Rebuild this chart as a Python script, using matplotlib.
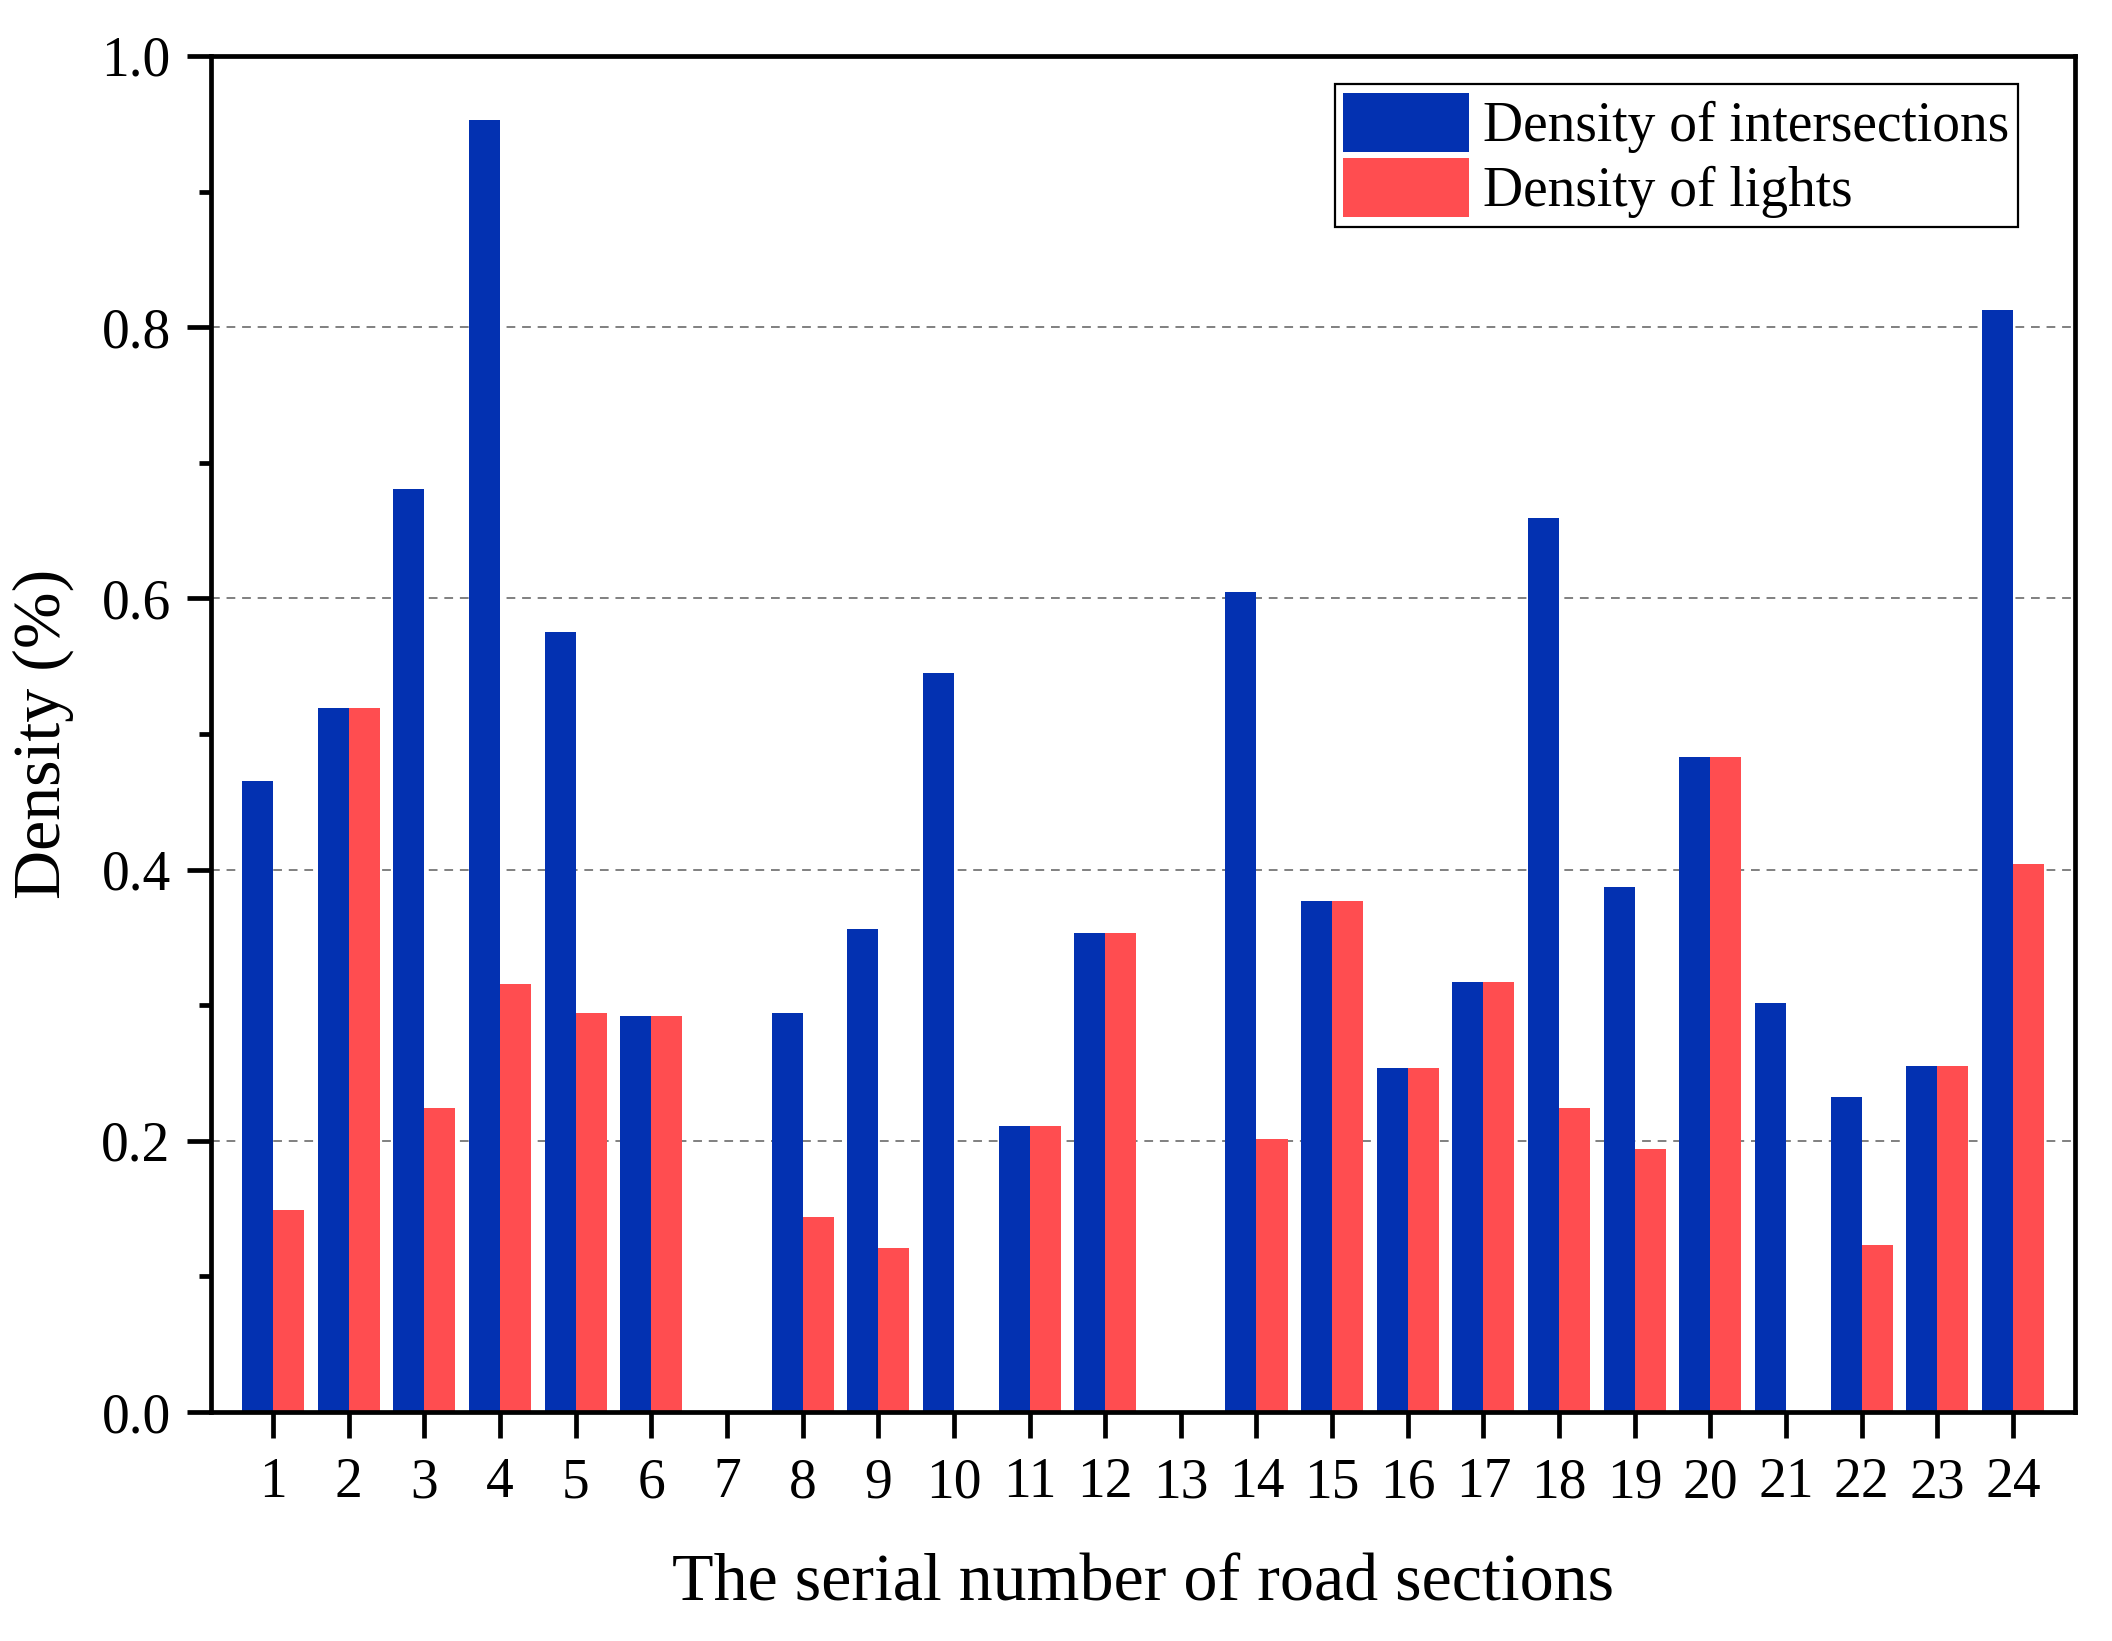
import numpy as np
import matplotlib
matplotlib.use("Agg")
import matplotlib.pyplot as plt

plt.rcParams['font.family'] = ['Liberation Serif', 'DejaVu Serif']

sections = list(range(1, 25))
density_intersections = [0.465, 0.519, 0.681, 0.953, 0.575, 0.292, 0.0, 0.294,
                         0.356, 0.545, 0.211, 0.353, 0.0, 0.605, 0.377, 0.254,
                         0.317, 0.659, 0.387, 0.483, 0.302, 0.232, 0.255, 0.813]
density_lights = [0.149, 0.519, 0.224, 0.316, 0.294, 0.292, 0.0, 0.144,
                  0.121, 0.0, 0.211, 0.353, 0.0, 0.201, 0.377, 0.254,
                  0.317, 0.224, 0.194, 0.483, 0.0, 0.123, 0.255, 0.404]
y_ticks = [0.0, 0.2, 0.4, 0.6, 0.8, 1.0]
y_minor_ticks = [0.1, 0.3, 0.5, 0.7, 0.9]
series_labels = ["Density of intersections", "Density of lights"]
x_label = "The serial number of road sections"
y_label = "Density (%)"

blue = "#0331B1"
red = "#FF4D50"

fig = plt.figure(figsize=(10.56, 8.205), dpi=200)
ax = fig.add_axes([0.0999, 0.1395, 0.8826, 0.8264])

x = np.array(sections, dtype=float)
w = 0.41
ax.bar(x - w, density_intersections, w, align='edge', color=blue, label=series_labels[0], zorder=2)
ax.bar(x, density_lights, w, align='edge', color=red, label=series_labels[1], zorder=2)

ax.set_xlim(0.18, 24.82)
ax.set_ylim(0, 1.0)
ax.set_xticks(sections)
ax.set_xticklabels([str(s) for s in sections])
ax.set_xticks([5, 10, 15, 20], minor=True)
ax.set_yticks(y_ticks)
ax.set_yticklabels([f"{v:.1f}" for v in y_ticks])
ax.set_yticks(y_minor_ticks, minor=True)

for s in ax.spines.values():
    s.set_linewidth(1.7)

ax.tick_params(axis='both', which='major', direction='out', length=8.5, width=1.7,
               labelsize=20, pad=6)
ax.tick_params(axis='y', which='minor', direction='out', length=4.2, width=1.7)
ax.tick_params(axis='x', which='minor', length=0)
ax.tick_params(axis='x', which='major', length=9.2, pad=7)

ax.set_axisbelow(True)
ax.grid(axis='y', which='major', color='#808080', linestyle=(0, (4.5, 3.5)), linewidth=0.7)
ax.grid(axis='x', which='minor', color='#808080', linestyle=(0, (4.5, 3.5)), linewidth=0.7)

ax.set_xlabel(x_label, fontsize=24.5, labelpad=16)
ax.set_ylabel(y_label, fontsize=24.5, labelpad=10)

leg = ax.legend(loc='upper left', bbox_to_anchor=(0.603, 0.979), borderaxespad=0,
                fontsize=20, handlelength=2.27, handleheight=1.25, labelspacing=0.1,
                handletextpad=0.25, borderpad=0.15, fancybox=False, framealpha=1,
                edgecolor='black')
leg.get_frame().set_linewidth(0.8)

fig.savefig("out.png", dpi=200)
